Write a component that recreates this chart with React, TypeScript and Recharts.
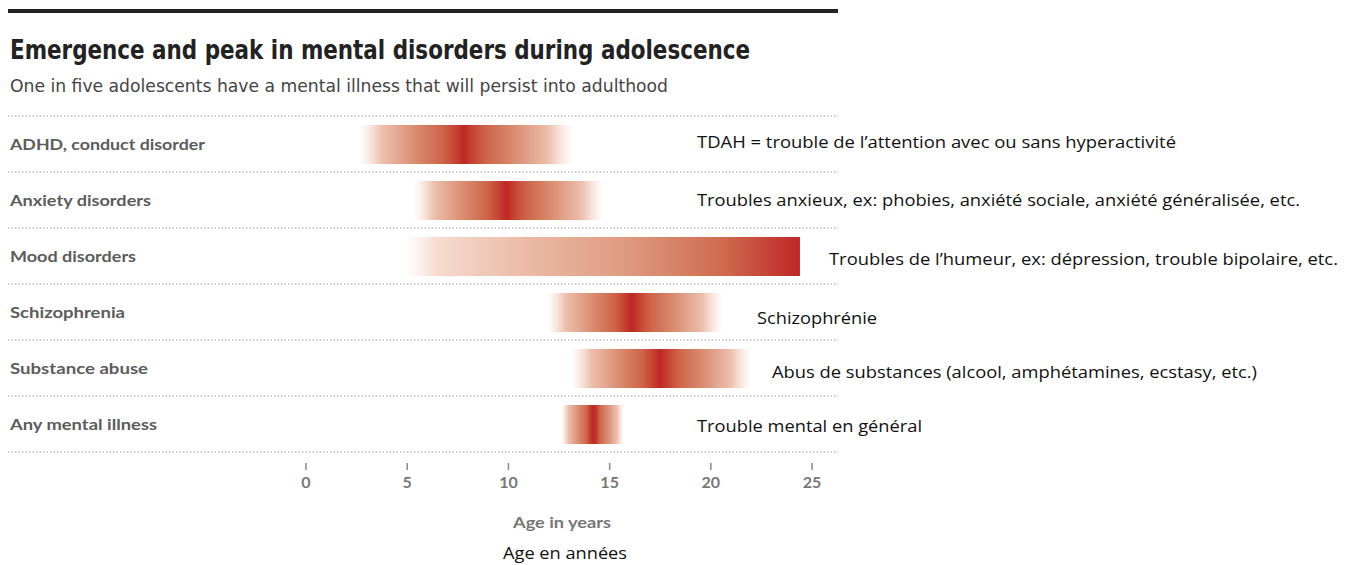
import React from "react";
import { BarChart, Bar, XAxis, YAxis, CartesianGrid, Cell } from "recharts";

// rows, top to bottom
const categories = [
  "ADHD, conduct disorder",
  "Anxiety disorders",
  "Mood disorders",
  "Schizophrenia",
  "Substance abuse",
  "Any mental illness",
];
// age (years) at which each disorder emerges, peaks and fades out
const onsetAge = [2.6, 5.3, 4.9, 11.9, 13.1, 12.6];
const peakAge = [7.8, 9.9, 24.4, 16.1, 17.5, 14.2];
const endAge = [13.2, 14.7, 24.4, 20.6, 22.0, 15.7];
const frenchNotes = [
  "TDAH = trouble de l\u2019attention avec ou sans hyperactivit\u00e9",
  "Troubles anxieux, ex: phobies, anxi\u00e9t\u00e9 sociale, anxi\u00e9t\u00e9 g\u00e9n\u00e9ralis\u00e9e, etc.",
  "Troubles de l\u2019humeur, ex: d\u00e9pression, trouble bipolaire, etc.",
  "Schizophr\u00e9nie",
  "Abus de substances (alcool, amph\u00e9tamines, ecstasy, etc.)",
  "Trouble mental en g\u00e9n\u00e9ral",
];
const xTicks = [0, 5, 10, 15, 20, 25];

const data = categories.map((name, i) => ({
  name,
  range: [onsetAge[i], endAge[i]],
  note: frenchNotes[i],
}));

// layout only
const labelWidths = [195, 141, 126, 115, 138, 147];
const noteX = [697, 697, 829, 757, 772, 697];
const noteWidths = [479, 603, 509, 120, 485, 225];
const noteDy = [-2, 0, 3, 6, 4, 2];

const W = 1354;
const H = 565;
const PEAK = "#bf2626";

function stopsFor(i: number) {
  const s = onsetAge[i];
  const e = endAge[i];
  const p = (peakAge[i] - s) / (e - s);
  const r = 1 - p;
  const span = e - s;
  const halo = Math.min(0.35 / span, 0.06);
  if (r < 0.01) {
    return [
      [0, "#f8e4dc", 0],
      [0.08, "#f6dbcf", 1],
      [0.3, "#ebbba7", 1],
      [0.55, "#df9c82", 1],
      [0.8, "#cf6c50", 1],
      [1, PEAK, 1],
    ] as [number, string, number][];
  }
  return [
    [0, "#f6d9cd", 0],
    [p * 0.22, "#edc0ae", 1],
    [p * 0.55, "#d98a6f", 1],
    [p * 0.8, "#ce6348", 1],
    [p - halo, "#c5402f", 1],
    [p, PEAK, 1],
    [p + halo, "#c5402f", 1],
    [p + r * 0.2, "#ce6348", 1],
    [p + r * 0.45, "#d98a6f", 1],
    [p + r * 0.78, "#edc0ae", 1],
    [1, "#f6d9cd", 0],
  ] as [number, string, number][];
}

const RowTick = (props: any) => {
  const { y, payload } = props;
  const i = categories.indexOf(payload.value);
  return (
    <g>
      <text
        x={10}
        y={y}
        dominantBaseline="central"
        fontFamily="Lato, 'Open Sans', sans-serif"
        fontWeight={700}
        fontSize={15}
        fill="#5c5c5c"
        textLength={labelWidths[i]}
        lengthAdjust="spacingAndGlyphs"
      >
        {payload.value}
      </text>
      <text
        x={noteX[i]}
        y={y + noteDy[i]}
        dominantBaseline="central"
        fontFamily="'Open Sans', 'Noto Sans', sans-serif"
        fontSize={16}
        fill="#111"
        textLength={noteWidths[i]}
        lengthAdjust="spacingAndGlyphs"
      >
        {data[i]?.note}
      </text>
    </g>
  );
};

const AgeTick = (props: any) => {
  const { x, y, payload } = props;
  return (
    <g>
      <line x1={x} x2={x} y1={y + 11} y2={y + 18} stroke="#8a8a8a" strokeWidth={1.5} />
      <text
        x={x}
        y={y + 29}
        textAnchor="middle"
        dominantBaseline="central"
        fontFamily="Lato, sans-serif"
        fontWeight={700}
        fontSize={16}
        fill="#777"
      >
        {payload.value}
      </text>
    </g>
  );
};

export default function App() {
  return (
    <div style={{ position: "absolute", left: 0, top: 0, width: W, height: H, background: "#fff" }}>
      <BarChart
        width={W}
        height={H}
        data={data}
        layout="vertical"
        margin={{ top: 116, right: 516, bottom: 73, left: 6 }}
        barCategoryGap={0}
      >
        <defs>
          {data.map((_, i) => (
            <linearGradient key={i} id={`grad${i}`} x1="0" y1="0" x2="1" y2="0">
              {stopsFor(i).map(([o, c, op], j) => (
                <stop key={j} offset={o} stopColor={c} stopOpacity={op} />
              ))}
            </linearGradient>
          ))}
        </defs>
        <CartesianGrid
          vertical={false}
          stroke="#9a9a9a"
          strokeDasharray="1.5 2"
          horizontalCoordinatesGenerator={({ offset }: any) =>
            Array.from({ length: categories.length + 1 }, (_, i) => offset.top + (i * offset.height) / categories.length)
          }
        />
        <XAxis
          type="number"
          domain={[-14.72, 26.28]}
          ticks={xTicks}
          allowDataOverflow
          axisLine={false}
          tickLine={false}
          tickSize={0}
          tickMargin={0}
          height={40}
          tick={<AgeTick />}
          interval={0}
        />
        <YAxis
          type="category"
          dataKey="name"
          width={2}
          axisLine={false}
          tickLine={false}
          tick={<RowTick />}
          interval={0}
        />
        <Bar dataKey="range" barSize={39} isAnimationActive={false}>
          {data.map((_, i) => (
            <Cell key={i} fill={`url(#grad${i})`} />
          ))}
        </Bar>
      </BarChart>
      <svg width={W} height={H} style={{ position: "absolute", left: 0, top: 0, pointerEvents: "none" }}>
        <rect x={8} y={9} width={830} height={4} fill="#222" />
        <text
          x={10}
          y={59}
          fontFamily="'Liberation Sans Narrow', 'DejaVu Sans Condensed', sans-serif"
          fontWeight={700}
          fontSize={27}
          fill="#222"
          textLength={740}
          lengthAdjust="spacingAndGlyphs"
        >
          Emergence and peak in mental disorders during adolescence
        </text>
        <text
          x={10}
          y={92}
          fontFamily="'Liberation Sans Narrow', 'DejaVu Sans Condensed', sans-serif"
          fontSize={18}
          fill="#444"
          textLength={658}
          lengthAdjust="spacingAndGlyphs"
        >
          One in five adolescents have a mental illness that will persist into adulthood
        </text>
        <text
          x={562}
          y={521}
          textAnchor="middle"
          dominantBaseline="central"
          fontFamily="Lato, sans-serif"
          fontWeight={700}
          fontSize={16}
          fill="#777"
          textLength={98}
          lengthAdjust="spacingAndGlyphs"
        >
          Age in years
        </text>
        <text
          x={565}
          y={553}
          textAnchor="middle"
          dominantBaseline="central"
          fontFamily="'Open Sans', sans-serif"
          fontSize={16}
          fill="#111"
          textLength={124}
          lengthAdjust="spacingAndGlyphs"
        >
          Age en années
        </text>
      </svg>
    </div>
  );
}
